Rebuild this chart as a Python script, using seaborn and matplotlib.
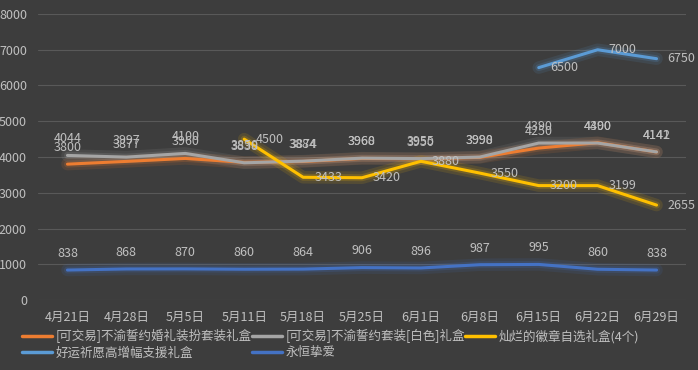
import numpy as np
import pandas as pd
import matplotlib
matplotlib.use('Agg')
import matplotlib.pyplot as plt
import seaborn as sns

dates = ['4月21日', '4月28日', '5月5日', '5月11日', '5月18日', '5月25日',
         '6月1日', '6月8日', '6月15日', '6月22日', '6月29日']
nan = np.nan
wedding = [3800, 3877, 3960, 3850, 3874, 3960, 3950, 3990, 4250, 4400, 4141]
white = [4044, 3997, 4100, 3838, 3884, 3968, 3955, 3998, 4390, 4390, 4142]
badge = [nan, nan, nan, 4500, 3433, 3420, 3880, 3550, 3200, 3199, 2655]
lucky = [nan, nan, nan, nan, nan, nan, nan, nan, 6500, 7000, 6750]
eternal = [838, 868, 870, 860, 864, 906, 896, 987, 995, 860, 838]

names = ['[可交易]不渝誓约婚礼装扮套装礼盒', '[可交易]不渝誓约套装[白色]礼盒',
         '灿烂的徽章自选礼盒(4个)', '好运祈愿高增幅支援礼盒', '永恒挚爱']
series = [wedding, white, badge, lucky, eternal]
colors = ['#ED7D31', '#A5A5A5', '#FFC000', '#5B9BD5', '#4472C4']
label_pos = ['above', 'above', 'right', 'right', 'above']

bg = '#3d3d3d'
txt = '#c0c0c0'

sns.set_style('dark')
plt.rcParams['font.family'] = ['Noto Sans CJK SC', 'DejaVu Sans']

fig = plt.figure(figsize=(6.98, 3.70), dpi=100, facecolor=bg)
ax = fig.add_axes([38 / 698, 1 - 300 / 370, (686 - 38) / 698, (300 - 14) / 370])
ax.set_facecolor(bg)

x = np.arange(len(dates))
handles = []
for name, vals, c, pos in zip(names, series, colors, label_pos):
    df = pd.DataFrame({'x': x, 'y': vals}).dropna()
    # soft glow under the line
    sns.lineplot(data=df, x='x', y='y', ax=ax, color=c, lw=9, alpha=0.12, zorder=2)
    sns.lineplot(data=df, x='x', y='y', ax=ax, color=c, lw=5, alpha=0.18, zorder=2)
    sns.lineplot(data=df, x='x', y='y', ax=ax, color=c, lw=2.2, zorder=3)
    handles.append(plt.Line2D([], [], color=c, lw=2.5, label=name))
    for xi, yi in zip(df['x'], df['y']):
        if pos == 'above':
            ax.annotate(f'{int(yi)}', (xi, yi), xytext=(0, 12), textcoords='offset points',
                        ha='center', va='center', color=txt, fontsize=9, zorder=5)
        else:
            ax.annotate(f'{int(yi)}', (xi, yi), xytext=(8, 0), textcoords='offset points',
                        ha='left', va='center', color=txt, fontsize=9, zorder=5)

ax.set_xlim(-0.5, len(dates) - 0.5)
ax.set_ylim(0, 8000)
ax.set_yticks(range(0, 8001, 1000))
ax.set_xticks(x)
ax.set_xticklabels(dates)
ax.tick_params(colors=txt, labelsize=9, length=0)
ax.tick_params(axis='y', pad=8)
ax.tick_params(axis='x', pad=8)
ax.grid(axis='y', color='#595959', lw=0.8)
ax.grid(axis='x', visible=False)
for s in ax.spines.values():
    s.set_visible(False)
ax.set_xlabel('')
ax.set_ylabel('')

order = [0, 3, 1, 4, 2]
leg = fig.legend([handles[i] for i in order], [names[i] for i in order],
                 loc='upper left', bbox_to_anchor=(16 / 698, 1 - 323 / 370), ncol=3,
                 frameon=False, fontsize=9, handlelength=2.4, handletextpad=0.3,
                 columnspacing=0.0, labelspacing=0.25, borderpad=0)
for t in leg.get_texts():
    t.set_color(txt)

fig.savefig('out.png', dpi=100, facecolor=bg)
